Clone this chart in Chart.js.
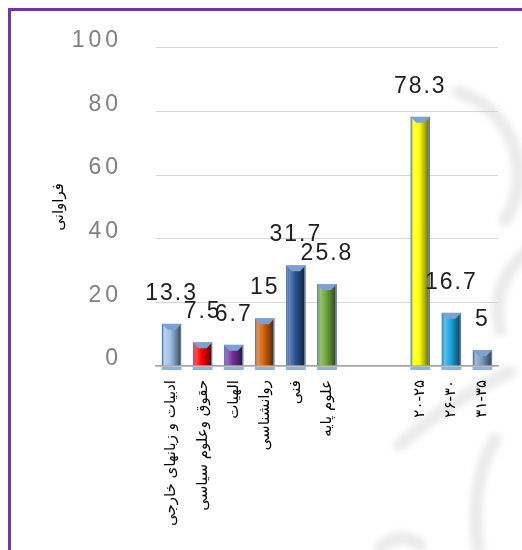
<!DOCTYPE html>
<html>
<head>
<meta charset="utf-8">
<title>فراوانی</title>
<script src="https://cdn.jsdelivr.net/npm/chart.js@4.4.1/dist/chart.umd.min.js"></script>
<style>
    html, body { margin: 0; padding: 0; background: #fff; }
    .frame { position: relative; width: 522px; height: 550px; overflow: hidden; }
    .frame svg, .frame canvas { position: absolute; left: 0; top: 0; }
    .frame .edge { position: absolute; left: 8px; top: 8px; width: 620px; height: 620px; border: 3px solid #7434a8; pointer-events: none; }
</style>
</head>
<body>
<div class="frame">
    <!-- faint ornament behind the plot -->
    <svg width="522" height="550">
        <defs><filter id="soft"><feGaussianBlur stdDeviation="3"/></filter></defs>
        <g fill="none" stroke="#ebebeb" stroke-width="13" stroke-linecap="round" filter="url(#soft)">
            <path d="M458 92 Q500 105 515 150 Q525 190 505 220"/>
            <path d="M530 250 Q490 280 500 330"/>
            <path d="M400 445 Q450 400 510 372"/>
            <path d="M495 440 Q470 480 478 548"/>
            <path d="M380 548 Q400 530 420 545"/>
        </g>
    </svg>
    <canvas id="freqChart" width="522" height="550"></canvas>
    <div class="edge"></div>
</div>
<script>
// ==================== CHART DATA ====================

const categories = [
    'ادبیات و زبانهای خارجی',
    'حقوق وعلوم سیاسی',
    'الهیات',
    'روانشناسی',
    'فنی',
    'علوم پایه',
    '',
    '',
    '۲۰-۲۵',
    '۲۶-۳۰',
    '۳۱-۳۵'
];
const frequencies = [13.3, 7.5, 6.7, 15, 31.7, 25.8, null, null, 78.3, 16.7, 5];
const yTicks = [0, 20, 40, 60, 80, 100];
const yTitle = 'فراوانی';

// one colour per bar (empty slots have none)
const barColors = ['#9cc0e8', '#ff0000', '#7030a0', '#d2600c', '#2b5598', '#70a83e', null, null, '#ffff00', '#1ba6e2', '#7d9cc4'];
const BAR_PCT = 0.64;

// Mix a hex colour towards white (amt > 0) or black (amt < 0)
function shade(hex, amt) {
    const n = parseInt(hex.slice(1), 16);
    const t = amt < 0 ? 0 : 255;
    const p = Math.abs(amt);
    const mix = c => Math.round(c + (t - c) * p);
    return `rgb(${mix(n >> 16)}, ${mix((n >> 8) & 255)}, ${mix(n & 255)})`;
}

// Horizontal gradient so each bar looks rounded
function barFill(context) {
    const base = barColors[context.dataIndex];
    if (!base) return 'rgba(0,0,0,0)';
    const chart = context.chart;
    const xs = chart.scales.x;
    if (!xs || !chart.chartArea) return base;
    const cx = xs.getPixelForValue(context.dataIndex);
    const half = xs.width / categories.length * BAR_PCT / 2;
    const g = chart.ctx.createLinearGradient(cx - half, 0, cx + half, 0);
    g.addColorStop(0, shade(base, -0.45));
    g.addColorStop(0.15, shade(base, 0.3));
    g.addColorStop(0.45, base);
    g.addColorStop(0.8, shade(base, -0.4));
    g.addColorStop(1, shade(base, -0.7));
    return g;
}

// Wider letter spacing on the value axis numbers
const spacedTicks = {
    id: 'spacedTicks',
    beforeDraw(chart) {
        const y = chart.scales.y;
        if (!y || y._spaced) return;
        const orig = y.drawLabels;
        y.drawLabels = function(area) {
            this.ctx.save();
            this.ctx.letterSpacing = '4px';
            orig.call(this, area);
            this.ctx.restore();
        };
        y._spaced = true;
    }
};

// Bevelled top and a small foot under each bar
const barBevel = {
    id: 'barBevel',
    afterDatasetsDraw(chart) {
        const ctx = chart.ctx;
        const base = chart.scales.y.getPixelForValue(0);
        chart.getDatasetMeta(0).data.forEach((bar, i) => {
            if (frequencies[i] == null) return;
            const l = bar.x - bar.width / 2;
            const r = bar.x + bar.width / 2;
            const t = bar.y;
            const d = 6;
            ctx.save();
            ctx.fillStyle = '#7ea2d0';
            ctx.beginPath();
            ctx.moveTo(l, t);
            ctx.lineTo(r, t);
            ctx.lineTo(r - d, t + d);
            ctx.lineTo(l + d, t + d);
            ctx.closePath();
            ctx.fill();
            ctx.fillStyle = '#8db3e2';
            ctx.fillRect(l, base + 1, r - l, 3);
            ctx.restore();
        });
    }
};

// Value above every bar
const valueLabels = {
    id: 'valueLabels',
    afterDatasetsDraw(chart) {
        const ctx = chart.ctx;
        ctx.save();
        ctx.font = '23px "Liberation Sans", Arial, sans-serif';
        ctx.letterSpacing = '2px';
        ctx.fillStyle = '#1e1e1e';
        ctx.textAlign = 'center';
        ctx.textBaseline = 'alphabetic';
        chart.getDatasetMeta(0).data.forEach((bar, i) => {
            const v = frequencies[i];
            if (v == null) return;
            ctx.fillText(String(v), bar.x, bar.y - 24);
        });
        ctx.restore();
    }
};

new Chart(document.getElementById('freqChart'), {
    type: 'bar',
    data: {
        labels: categories,
        datasets: [{
            data: frequencies,
            backgroundColor: barFill,
            borderColor: '#5a7eab',
            borderWidth: 1.5,
            categoryPercentage: 1,
            barPercentage: BAR_PCT
        }]
    },
    options: {
        responsive: false,
        animation: false,
        layout: { padding: { left: 46, right: 24, top: 46, bottom: 0 } },
        plugins: {
            legend: { display: false },
            tooltip: { enabled: false }
        },
        scales: {
            x: {
                grid: { display: false, drawTicks: false },
                border: { display: true, color: '#a6a6a6', width: 1.5 },
                ticks: {
                    autoSkip: false,
                    maxRotation: 90,
                    minRotation: 90,
                    padding: 14,
                    color: '#000',
                    font: { family: '"DejaVu Sans"', size: 15 }
                },
                afterFit: scale => { scale.height = 184; }
            },
            y: {
                min: 0,
                max: 100,
                afterBuildTicks: scale => { scale.ticks = yTicks.map(v => ({ value: v })); },
                grid: { color: '#d4d4d4', lineWidth: 1, drawTicks: false },
                border: { display: false },
                ticks: {
                    padding: 34,
                    labelOffset: -7,
                    color: '#808080',
                    font: { family: '"Liberation Sans", Arial', size: 23 }
                },
                title: {
                    display: true,
                    text: yTitle,
                    color: '#000',
                    font: { family: '"DejaVu Sans"', size: 15 },
                    padding: { top: 4, bottom: 4 }
                },
                afterFit: scale => { scale.width = 110; }
            }
        }
    },
    plugins: [spacedTicks, barBevel, valueLabels]
});
</script>
</body>
</html>
